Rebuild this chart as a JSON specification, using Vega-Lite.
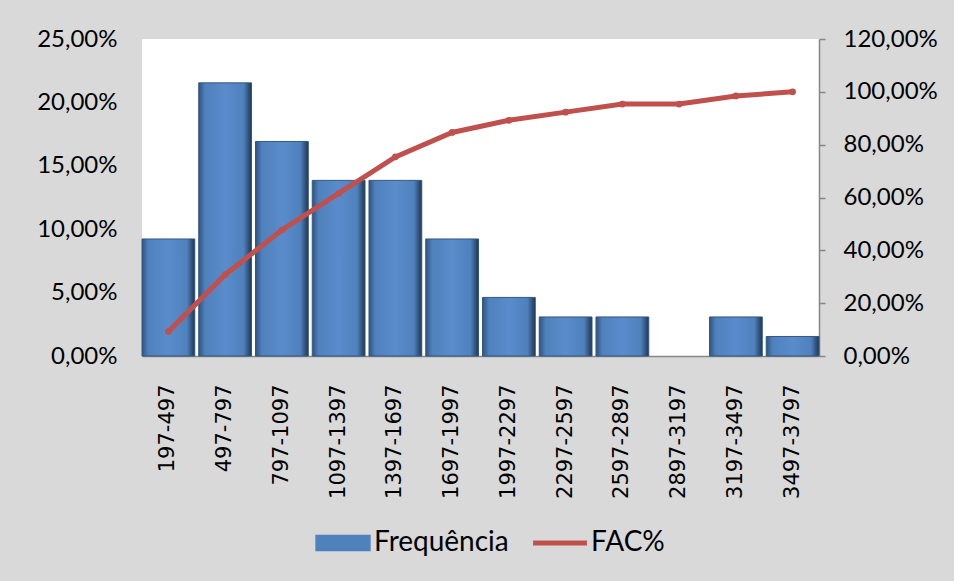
{
  "$schema": "https://vega.github.io/schema/vega-lite/v6.json",
  "width": 954,
  "height": 581,
  "autosize": {"type": "fit", "contains": "padding"},
  "padding": {"left": 36, "top": 27, "right": 16, "bottom": 82},
  "background": "#d9d9d9",
  "config": {
    "view": {"fill": "white", "stroke": null},
    "font": "Lato",
    "axis": {"labelColor": "black", "grid": false, "title": null}
  },
  "data": {
    "values": [
      {"classe": "197-497", "freq": 0.0923, "fac": 0.0923},
      {"classe": "497-797", "freq": 0.2154, "fac": 0.3077},
      {"classe": "797-1097", "freq": 0.1692, "fac": 0.4769},
      {"classe": "1097-1397", "freq": 0.1385, "fac": 0.6154},
      {"classe": "1397-1697", "freq": 0.1385, "fac": 0.7538},
      {"classe": "1697-1997", "freq": 0.0923, "fac": 0.8462},
      {"classe": "1997-2297", "freq": 0.0462, "fac": 0.8923},
      {"classe": "2297-2597", "freq": 0.0308, "fac": 0.9231},
      {"classe": "2597-2897", "freq": 0.0308, "fac": 0.9538},
      {"classe": "2897-3197", "freq": 0.0, "fac": 0.9538},
      {"classe": "3197-3497", "freq": 0.0308, "fac": 0.9846},
      {"classe": "3497-3797", "freq": 0.0154, "fac": 1.0}
    ]
  },
  "encoding": {
    "x": {
      "field": "classe",
      "type": "nominal",
      "sort": null,
      "scale": {
        "domain": ["197-497", "497-797", "797-1097", "1097-1397", "1397-1697", "1697-1997", "1997-2297", "2297-2597", "2597-2897", "2897-3197", "3197-3497", "3497-3797"],
        "paddingInner": 0.07,
        "paddingOuter": 0
      },
      "axis": {
        "labelAngle": -90,
        "labelFont": "DejaVu Sans",
        "labelFontSize": 21,
        "labelPadding": 28,
        "ticks": false,
        "domainColor": "#868686",
        "domainWidth": 1.5
      }
    }
  },
  "layer": [
    {
      "transform": [{"filter": "datum.freq > 0"}],
      "mark": {
        "type": "bar",
        "color": {
          "gradient": "linear",
          "x1": 0, "x2": 1, "y1": 0, "y2": 0,
          "stops": [
            {"offset": 0, "color": "#2f5380"},
            {"offset": 0.12, "color": "#4f81bd"},
            {"offset": 0.5, "color": "#5a8bcb"},
            {"offset": 0.85, "color": "#4f81bd"},
            {"offset": 1, "color": "#1f3654"}
          ]
        },
        "stroke": "#34577f",
        "strokeWidth": 1
      },
      "encoding": {
        "y": {
          "field": "freq",
          "type": "quantitative",
          "scale": {"domain": [0, 0.25]},
          "axis": {
            "orient": "left",
            "values": [0, 0.05, 0.1, 0.15, 0.2, 0.25],
            "labelExpr": "replace(format(datum.value, '.2%'), '.', ',')",
            "labelFont": "Lato",
            "labelFontSize": 24,
            "labelPadding": 25,
            "domain": false,
            "ticks": false
          }
        }
      }
    },
    {
      "mark": {
        "type": "line",
        "strokeWidth": 5,
        "point": {"filled": true, "size": 45}
      },
      "encoding": {
        "y": {
          "field": "fac",
          "type": "quantitative",
          "scale": {"domain": [0, 1.2]},
          "axis": {
            "orient": "right",
            "values": [0, 0.2, 0.4, 0.6, 0.8, 1.0, 1.2],
            "labelExpr": "replace(format(datum.value, '.2%'), '.', ',')",
            "labelFont": "Lato",
            "labelFontSize": 24,
            "labelPadding": 18,
            "domainColor": "#868686",
            "domainWidth": 1.5,
            "tickColor": "#868686",
            "tickSize": 6,
            "tickWidth": 1.5
          }
        },
        "color": {
          "datum": "FAC%",
          "type": "nominal",
          "scale": {"domain": ["Frequência", "FAC%"], "range": ["#4f81bd", "#c0504d"]},
          "legend": {
            "title": null,
            "orient": "none",
            "legendX": 187,
            "legendY": 490,
            "direction": "horizontal",
            "labelFontSize": 28,
            "labelFont": "Lato",
            "labelColor": "black",
            "symbolSize": 2900,
            "labelOffset": 17,
            "columnPadding": 14,
            "encode": {
              "symbols": {
                "update": {
                  "shape": {"signal": "datum.value === 'Frequência' ? 'M-1,-0.28H1V0.28H-1Z' : 'M-1,0H1'"},
                  "fill": {"signal": "datum.value === 'Frequência' ? '#4f81bd' : 'transparent'"},
                  "stroke": {"signal": "datum.value === 'Frequência' ? '#2f5380' : '#c0504d'"},
                  "strokeWidth": {"signal": "datum.value === 'Frequência' ? 1.5 : 5"},
                  "size": {"value": 2900},
                  "opacity": {"value": 1}
                }
              }
            }
          }
        }
      }
    }
  ],
  "resolve": {"scale": {"y": "independent"}}
}
